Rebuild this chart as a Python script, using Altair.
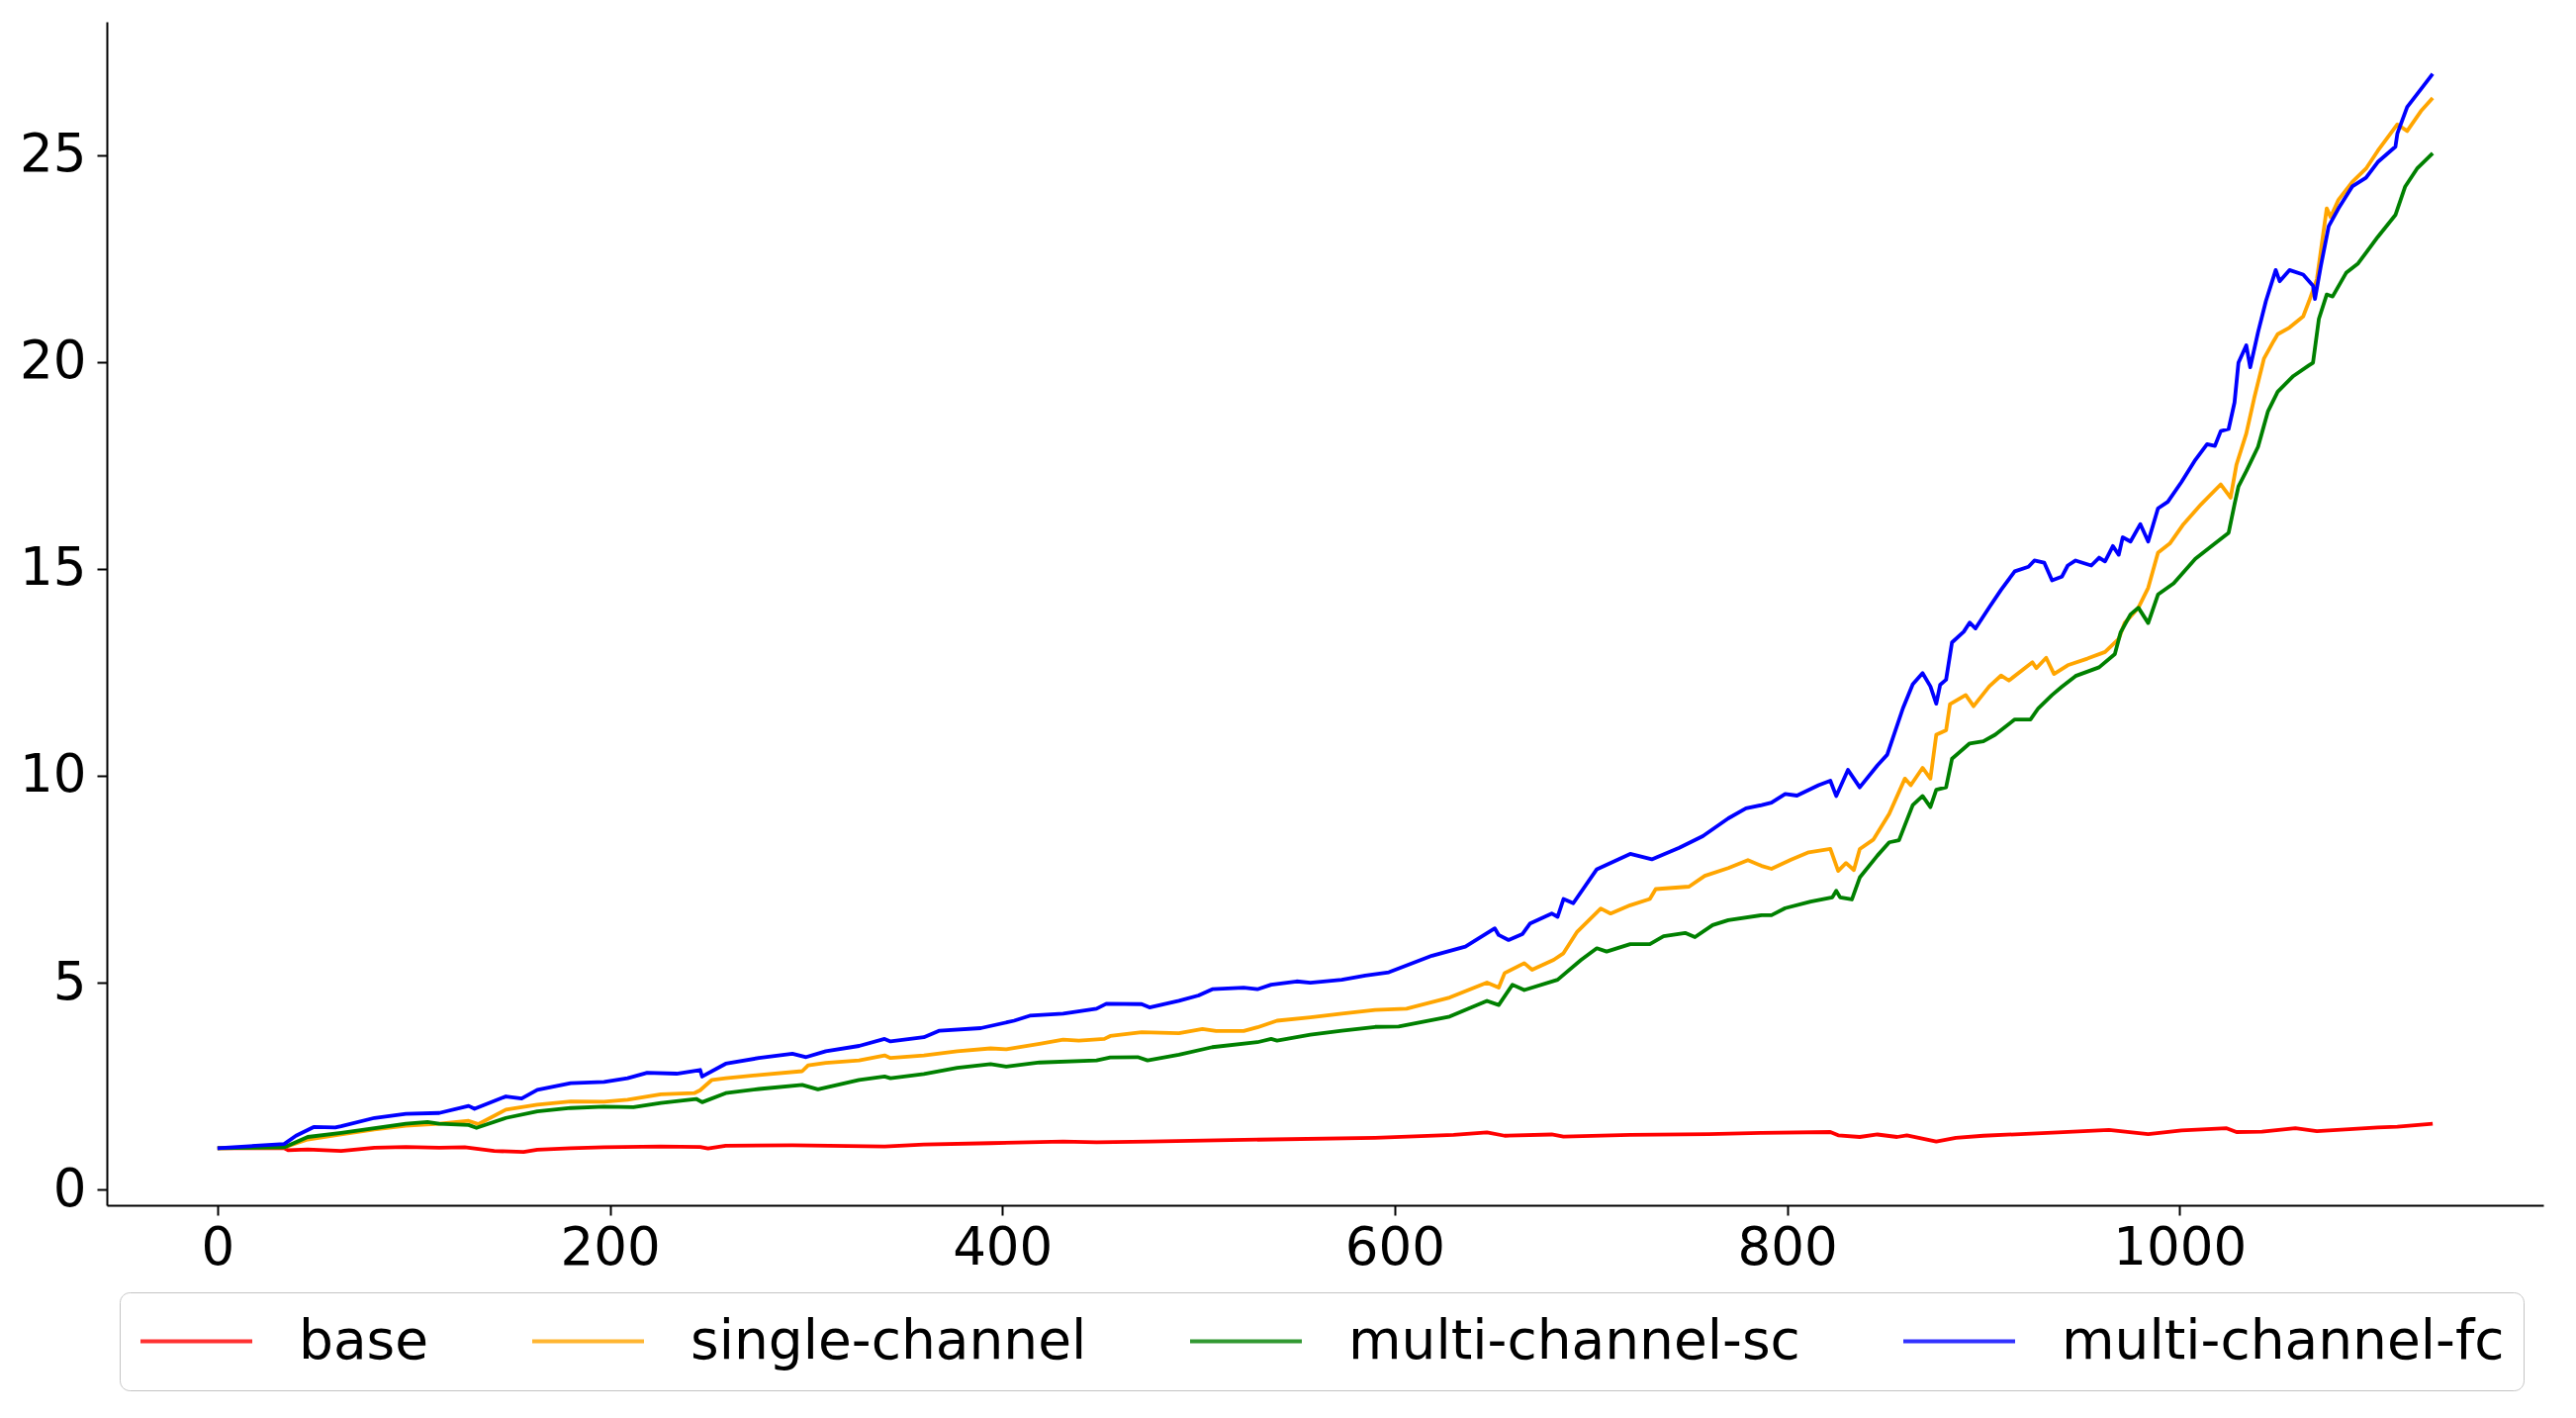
import altair as alt
import pandas as pd

series_names = ["base", "single-channel", "multi-channel-sc", "multi-channel-fc"]
series_colors = ["red", "orange", "green", "blue"]

base_x = [0, 34, 36, 46, 63, 80, 96, 113, 126, 141, 156, 163, 180, 197, 226, 246, 250, 259, 293, 340,
          360, 394, 431, 448, 475, 523, 590, 630, 647, 656, 680, 686, 720, 760, 787, 822, 826, 837, 846,
          856, 861, 876, 886, 900, 938, 964, 984, 1001, 1024, 1029, 1042, 1059, 1070, 1101, 1111, 1129]
base_y = [1.0, 1.0, 0.95, 0.97, 0.93, 1.01, 1.03, 1.01, 1.02, 0.93, 0.91, 0.96, 1.0, 1.02, 1.04, 1.03,
          0.99, 1.06, 1.07, 1.04, 1.09, 1.12, 1.16, 1.14, 1.16, 1.2, 1.25, 1.32, 1.38, 1.3, 1.33, 1.28,
          1.32, 1.34, 1.37, 1.39, 1.31, 1.27, 1.33, 1.27, 1.31, 1.16, 1.25, 1.3, 1.38, 1.44, 1.34, 1.43,
          1.48, 1.39, 1.4, 1.48, 1.41, 1.5, 1.52, 1.59]

single_x = [0, 34, 46, 63, 80, 96, 113, 128, 133, 147, 163, 180, 197, 209, 226, 243, 246, 252, 259, 276,
            298, 301, 310, 327, 340, 343, 360, 377, 394, 402, 419, 431, 439, 452, 455, 471, 490, 502, 509,
            523, 530, 540, 557, 573, 590, 606, 628, 647, 653, 656, 666, 670, 681, 686, 693, 705, 710, 720,
            730, 733, 750, 758, 770, 780, 787, 792, 802, 811, 822, 826, 830, 834, 837, 844, 852, 860, 863,
            869, 873, 876, 881, 883, 891, 895, 903, 909, 913, 925, 927, 932, 936, 943, 953, 962, 969, 972,
            979, 984, 989, 995, 1002, 1011, 1021, 1026, 1029, 1034, 1038, 1043, 1048, 1050, 1056, 1063,
            1066, 1070, 1075, 1077, 1081, 1088, 1095, 1101, 1111, 1116, 1123, 1129]
single_y = [1.0, 1.02, 1.21, 1.33, 1.45, 1.54, 1.59, 1.66, 1.58, 1.93, 2.05, 2.13, 2.12, 2.17, 2.30, 2.33,
            2.40, 2.65, 2.69, 2.77, 2.86, 3.0, 3.06, 3.12, 3.24, 3.18, 3.24, 3.34, 3.41, 3.39, 3.52, 3.62,
            3.60, 3.64, 3.71, 3.80, 3.78, 3.88, 3.83, 3.83, 3.92, 4.08, 4.16, 4.25, 4.34, 4.37, 4.64, 5.0,
            4.88, 5.23, 5.47, 5.31, 5.55, 5.71, 6.23, 6.79, 6.67, 6.87, 7.02, 7.26, 7.32, 7.58, 7.77, 7.96,
            7.82, 7.75, 7.97, 8.15, 8.23, 7.70, 7.89, 7.72, 8.23, 8.46, 9.08, 9.93, 9.77, 10.19, 9.93, 10.99,
            11.1, 11.73, 11.95, 11.68, 12.16, 12.42, 12.3, 12.74, 12.6, 12.85, 12.46, 12.67, 12.83, 12.99,
            13.31, 13.69, 14.06, 14.54, 15.39, 15.61, 16.08, 16.56, 17.04, 16.72, 17.52, 18.27, 19.12, 20.08,
            20.51, 20.67, 20.83, 21.10, 21.47, 22.0, 23.71, 23.50, 23.92, 24.35, 24.67, 25.10, 25.74, 25.58,
            26.06, 26.38]

sc_x = [0, 34, 46, 63, 80, 96, 107, 113, 128, 132, 147, 163, 180, 197, 212, 226, 244, 247, 259, 276, 298,
        306, 327, 340, 343, 360, 377, 394, 402, 419, 448, 455, 469, 474, 490, 507, 530, 537, 540, 557, 573,
        590, 602, 628, 647, 653, 660, 666, 683, 695, 703, 708, 720, 730, 737, 748, 753, 762, 770, 787, 792,
        799, 812, 823, 825, 827, 833, 837, 846, 852, 857, 864, 869, 873, 876, 881, 884, 893, 900, 906, 916,
        924, 928, 935, 940, 947, 959, 967, 970, 975, 979, 984, 989, 997, 1008, 1018, 1025, 1028, 1030, 1034,
        1040, 1045, 1050, 1058, 1066, 1068, 1071, 1075, 1078, 1085, 1091, 1101, 1110, 1115, 1121, 1129]
sc_y = [1.0, 1.02, 1.27, 1.37, 1.48, 1.59, 1.63, 1.59, 1.56, 1.49, 1.73, 1.89, 1.97, 2.0, 1.99, 2.09, 2.19,
        2.11, 2.33, 2.43, 2.53, 2.42, 2.65, 2.73, 2.69, 2.79, 2.94, 3.03, 2.97, 3.07, 3.12, 3.19, 3.20, 3.12,
        3.26, 3.44, 3.56, 3.64, 3.60, 3.74, 3.84, 3.93, 3.94, 4.18, 4.56, 4.46, 4.95, 4.82, 5.07, 5.55, 5.83,
        5.75, 5.93, 5.93, 6.12, 6.20, 6.1, 6.39, 6.51, 6.63, 6.63, 6.80, 6.96, 7.06, 7.22, 7.06, 7.01, 7.54,
        8.07, 8.39, 8.44, 9.29, 9.51, 9.24, 9.66, 9.72, 10.41, 10.78, 10.83, 10.99, 11.36, 11.36, 11.63, 11.95,
        12.15, 12.41, 12.62, 12.94, 13.47, 13.90, 14.06, 13.69, 14.38, 14.65, 15.24, 15.61, 15.87, 16.56,
        16.99, 17.36, 17.95, 18.80, 19.28, 19.66, 19.92, 19.98, 21.04, 21.63, 21.58, 22.16, 22.38, 23.02,
        23.55, 24.24, 24.67, 25.04]

fc_x = [0, 34, 40, 49, 60, 63, 80, 96, 113, 128, 131, 147, 155, 163, 180, 197, 209, 219, 234, 246, 247, 259,
        276, 293, 300, 310, 327, 340, 343, 360, 368, 389, 406, 414, 431, 448, 453, 471, 475, 490, 500, 507,
        523, 530, 537, 550, 557, 573, 585, 597, 619, 636, 651, 653, 658, 665, 669, 680, 683, 686, 691, 703,
        720, 731, 745, 757, 770, 779, 787, 792, 799, 805, 816, 822, 825, 831, 837, 846, 851, 859, 864, 869,
        873, 876, 878, 881, 884, 890, 893, 896, 903, 909, 916, 923, 926, 931, 935, 940, 943, 947, 955, 959,
        962, 966, 969, 971, 975, 980, 984, 989, 994, 1001, 1008, 1014, 1018, 1021, 1025, 1028, 1030, 1034,
        1036, 1040, 1044, 1049, 1051, 1056, 1063, 1068, 1069, 1072, 1076, 1081, 1088, 1095, 1101, 1110, 1111,
        1116, 1123, 1129]
fc_y = [1.0, 1.1, 1.3, 1.51, 1.50, 1.53, 1.73, 1.83, 1.85, 2.02, 1.95, 2.25, 2.2, 2.41, 2.57, 2.6, 2.69, 2.82,
        2.8, 2.89, 2.73, 3.04, 3.18, 3.28, 3.2, 3.34, 3.47, 3.64, 3.58, 3.68, 3.84, 3.90, 4.08, 4.20, 4.25,
        4.37, 4.49, 4.48, 4.40, 4.56, 4.69, 4.84, 4.88, 4.84, 4.95, 5.03, 5.0, 5.07, 5.17, 5.25, 5.65, 5.87,
        6.31, 6.15, 6.03, 6.17, 6.43, 6.67, 6.59, 7.02, 6.92, 7.74, 8.11, 7.98, 8.26, 8.54, 8.97, 9.21, 9.29,
        9.35, 9.56, 9.52, 9.77, 9.88, 9.51, 10.14, 9.72, 10.25, 10.51, 11.63, 12.21, 12.48, 12.16, 11.74, 12.2,
        12.32, 13.22, 13.48, 13.70, 13.56, 14.07, 14.49, 14.94, 15.05, 15.2, 15.15, 14.72, 14.81, 15.08, 15.2,
        15.08, 15.27, 15.18, 15.55, 15.34, 15.76, 15.66, 16.08, 15.66, 16.46, 16.62, 17.10, 17.63, 18.01,
        17.97, 18.33, 18.38, 19.02, 19.98, 20.40, 19.87, 20.72, 21.47, 22.22, 21.95, 22.22, 22.11, 21.84,
        21.52, 22.32, 23.28, 23.71, 24.24, 24.45, 24.83, 25.20, 25.52, 26.16, 26.59, 26.96]

x_ticks = [0, 200, 400, 600, 800, 1000]
y_ticks = [0, 5, 10, 15, 20, 25]

rows = []
for name, xs, ys in zip(series_names, [base_x, single_x, sc_x, fc_x], [base_y, single_y, sc_y, fc_y]):
    for xv, yv in zip(xs, ys):
        rows.append({"t": xv, "value": yv, "series": name})
df = pd.DataFrame(rows)

FONT = "DejaVu Sans"

chart = alt.Chart(df).mark_line(strokeWidth=3.8, strokeJoin="round").encode(
    x=alt.X("t:Q",
            scale=alt.Scale(domain=[-56.4, 1185.4], nice=False, zero=False),
            axis=alt.Axis(values=x_ticks, title=None, grid=False, labelFontSize=53, labelFont=FONT,
                          labelColor="black", tickSize=10, tickWidth=2, tickColor="black",
                          domainColor="black", domainWidth=2, labelPadding=7, format="d")),
    y=alt.Y("value:Q",
            scale=alt.Scale(domain=[-0.38, 28.22], nice=False, zero=False),
            axis=alt.Axis(values=y_ticks, title=None, grid=False, labelFontSize=53, labelFont=FONT,
                          labelColor="black", tickSize=10, tickWidth=2, tickColor="black",
                          domainColor="black", domainWidth=2, labelPadding=11, format="d")),
    color=alt.Color("series:N",
                    scale=alt.Scale(domain=series_names, range=series_colors),
                    legend=alt.Legend(title=None, orient="none", legendX=13, legendY=1284,
                                      direction="horizontal", columns=4, symbolType="stroke",
                                      symbolSize=12769, symbolStrokeWidth=3.8, symbolOpacity=0.8,
                                      labelFontSize=55, labelFont=FONT, labelColor="black",
                                      labelOffset=45, columnPadding=102, padding=19, clipHeight=61,
                                      strokeColor="#c4c4c4", fillColor="white",
                                      cornerRadius=10, labelLimit=0)),
).properties(
    width=2463, height=1196,
    autosize=alt.AutoSizeParams(type="none"),
    padding={"left": 100, "top": 14, "right": 25, "bottom": 215},
).configure_view(strokeWidth=0)

chart.save("out.html", embed_options={"renderer": "svg", "actions": False})
